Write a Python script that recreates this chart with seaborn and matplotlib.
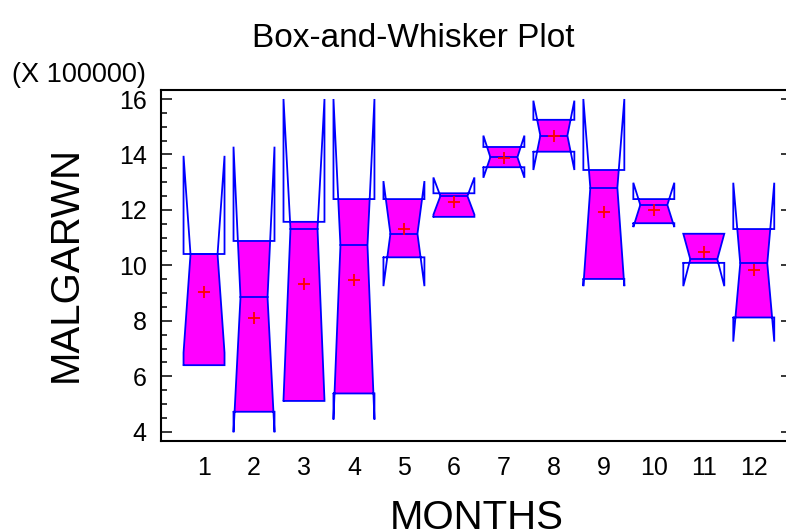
import numpy as np
import pandas as pd
import matplotlib
matplotlib.use("Agg")
import matplotlib.pyplot as plt
import seaborn as sns
from matplotlib.patches import Rectangle
from matplotlib.ticker import MultipleLocator

# values in units of 100000
months = [1, 2, 3, 4, 5, 6, 7, 8, 9, 10, 11, 12]
q1 = [6.40, 4.72, 5.11, 5.38, 10.29, 11.75, 13.54, 14.10, 9.51, 11.52, 10.09, 8.12]
medians = [10.40, 8.85, 11.31, 10.72, 11.14, 12.50, 13.90, 14.68, 12.80, 12.18, 10.22, 10.07]
q3 = [10.41, 10.88, 11.57, 12.39, 12.39, 12.60, 14.27, 15.25, 13.44, 12.39, 11.14, 11.31]
notch_lo = [6.85, 3.98, 5.15, 4.44, 9.25, 11.83, 13.16, 13.44, 9.25, 11.38, 9.25, 7.25]
notch_hi = [13.95, 14.28, 16.0, 16.0, 13.04, 13.17, 14.68, 15.94, 16.0, 12.98, 11.14, 12.98]
means = [9.05, 8.09, 9.33, 9.49, 11.30, 12.27, 13.86, 14.65, 11.93, 12.00, 10.49, 9.83]

box_w = 0.82
notch_ratio = 0.66
line_col = "#0000FF"
fill_col = "#FF00FF"

sns.set_style("ticks")
plt.rcParams["font.family"] = ["Liberation Sans", "DejaVu Sans"]
plt.rcParams["text.color"] = "black"
plt.rcParams["axes.labelcolor"] = "black"

fig = plt.figure(figsize=(7.86, 5.31), dpi=100)
ax = fig.add_axes([160.7 / 786, 90 / 531, (792 - 160.7) / 786, 351 / 531])

for x, a, m, b, lo, hi in zip(months, q1, medians, q3, notch_lo, notch_hi):
    L, R = x - box_w / 2, x + box_w / 2
    l, r = x - box_w * notch_ratio / 2, x + box_w * notch_ratio / 2
    xs = [L, R, R, r, R, R, L, L, l, L, L]
    ys = [a, a, lo, m, hi, b, b, hi, m, lo, a]
    # magenta fill only inside the box (q1..q3)
    patch = ax.fill(xs, ys, color=fill_col, lw=0, zorder=1)[0]
    clip = Rectangle((L, a), R - L, b - a, transform=ax.transData)
    patch.set_clip_path(clip)
    ax.plot(xs, ys, color=line_col, lw=1.3, zorder=2, solid_joinstyle="miter")
    ax.plot([l, r], [m, m], color=line_col, lw=1.3, zorder=2)

mean_df = pd.DataFrame({"month": months, "mean": means})
sns.scatterplot(data=mean_df, x="month", y="mean", marker="+", color="red",
                s=80, linewidth=1.3, ax=ax, zorder=3)

ax.set_xlim(0.133, 12.765)
ax.set_ylim(3.665, 16.325)
ax.set_xticks(months)
ax.set_xticklabels([str(m) for m in months])
ax.set_yticks([4, 6, 8, 10, 12, 14, 16])
ax.yaxis.set_minor_locator(MultipleLocator(0.5))
ax.set_xlabel("")
ax.set_ylabel("")

for side in ["left", "bottom", "top", "right"]:
    ax.spines[side].set_visible(True)
    ax.spines[side].set_linewidth(1.5)
    ax.spines[side].set_color("black")

ax.tick_params(axis="x", length=0, pad=11, labelsize=18, colors="black")
ax.tick_params(axis="y", which="major", direction="in", length=7.7, width=1.1,
               left=True, right=True, labelsize=18, pad=10, colors="black")
ax.tick_params(axis="y", which="minor", direction="in", length=4, width=1.1,
               left=True, right=False, colors="black")

fig.text(413 / 786, 1 - 46.7 / 531, "Box-and-Whisker Plot", ha="center",
         va="baseline", fontsize=24)
fig.text(79 / 786, 1 - 82 / 531, "(X 100000)", ha="center", va="baseline",
         fontsize=19.5)
fig.text(66 / 786, 1 - 264 / 531, "MALGARWN", rotation=90, ha="center",
         va="center", fontsize=29)
fig.text(476.5 / 786, 1 - 529 / 531, "MONTHS", ha="center", va="baseline",
         fontsize=29)

fig.savefig("out.png", dpi=100)
